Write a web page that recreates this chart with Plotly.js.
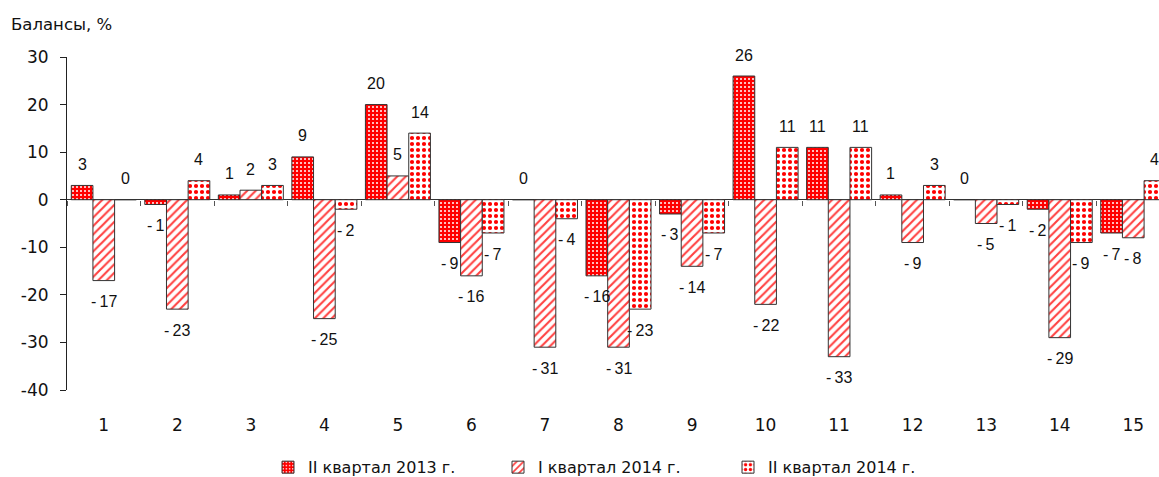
<!DOCTYPE html>
<html><head><meta charset="utf-8">
<script src="https://cdn.plot.ly/plotly-3.0.1.min.js"></script>
<style>body{margin:0;background:#fff}#c{width:1159px;height:477px}</style>
</head><body><div id="c"></div>
<script>
var categories = ['1','2','3','4','5','6','7','8','9','10','11','12','13','14','15'];
var seriesNames = ['II квартал 2013 г.', 'I квартал 2014 г.', 'II квартал 2014 г.'];
var q2_2013 = [3, -1, 1, 9, 20, -9, 0, -16, -3, 26, 11, 1, 0, -2, -7];
var q1_2014 = [-17, -23, 2, -25, 5, -16, -31, -31, -14, -22, -33, -9, -5, -29, -8];
var q2_2014 = [0, 4, 3, -2, 14, -7, -4, -23, -7, 11, 11, 3, -1, -9, 4];
var yTicks = [-40, -30, -20, -10, 0, 10, 20, 30];

var labelFont = {family: 'Liberation Sans Narrow, Arial Narrow, Liberation Sans, Arial', size: 16, color: '#111'};
var lineStyle = {color: '#333', width: 1};

function fmt(v) { return v < 0 ? '-\u2009' + Math.abs(v) : String(v); }

var plotW = 1092, xRange = [-0.5, 14.35], bargap = 0.116;
var catPx = plotW / (xRange[1] - xRange[0]);
var barPx = catPx * (1 - bargap) / 3;

function trace(name, vals, pattern) {
  return {
    type: 'bar', name: name, x: categories, y: vals,
    cliponaxis: true,
    marker: {color: pattern.bgcolor, line: lineStyle, pattern: pattern},
    hoverinfo: 'skip'
  };
}

var series = [q2_2013, q1_2014, q2_2014];
var data = [
  trace(seriesNames[0], q2_2013, {shape: '.', bgcolor: '#ff0000', fgcolor: '#ffffff', size: 4, solidity: 0.2, fillmode: 'replace'}),
  trace(seriesNames[1], q1_2014, {shape: '/', bgcolor: '#ffffff', fgcolor: '#ff4040', size: 6, solidity: 0.35, fillmode: 'replace'}),
  trace(seriesNames[2], q2_2014, {shape: '.', bgcolor: '#ffffff', fgcolor: '#ff0000', size: 6, solidity: 0.38, fillmode: 'replace'})
];

var annotations = [];
series.forEach(function (vals, s) {
  vals.forEach(function (v, i) {
    annotations.push({
      xref: 'x', yref: 'y', x: i, y: v, text: fmt(v),
      xshift: (s - 1) * barPx, yshift: v < 0 ? -21 : 21,
      xanchor: 'center', yanchor: 'middle', showarrow: false, font: labelFont
    });
  });
});

var tickFont = {family: 'DejaVu Sans, Liberation Sans, Arial', size: 17, color: '#111'};

annotations.push({text: 'Балансы, %', xref: 'paper', yref: 'paper', x: -58/1092, y: 1 + 32/333,
                 xanchor: 'left', yanchor: 'middle', showarrow: false,
                 font: {family: 'DejaVu Sans, Liberation Sans, Arial', size: 16.5, color: '#111'}});

var layout = {
  width: 1159, height: 477,
  margin: {l: 67, r: 0, t: 57, b: 87, autoexpand: false},
  paper_bgcolor: '#fff', plot_bgcolor: '#fff',
  barmode: 'group', bargap: bargap, bargroupgap: 0,
  showlegend: true,
  legend: {orientation: 'h', x: 0.5, xanchor: 'center', xref: 'paper', y: -0.232, yanchor: 'middle',
           font: {family: 'DejaVu Sans, Liberation Sans, Arial', size: 16, color: '#111'},
           itemwidth: 30, entrywidth: 185, entrywidthmode: 'pixels', traceorder: 'normal'},
  xaxis: {type: 'category', range: xRange, showline: false, showgrid: false, zeroline: false,
          ticks: 'outside', ticklen: 20, tickcolor: 'rgba(0,0,0,0)', tickfont: tickFont, fixedrange: true},
  xaxis2: {type: 'linear', overlaying: 'x', anchor: 'free', position: 4/7, side: 'bottom',
           range: xRange, tick0: -0.5, dtick: 1, ticks: 'outside', ticklen: 5, tickcolor: '#555',
           showticklabels: false, showline: false, showgrid: false, zeroline: false},
  yaxis: {range: [-40, 30], tickvals: yTicks, ticktext: yTicks.map(String), showline: true, linecolor: '#222', linewidth: 1,
          ticks: 'outside', ticklen: 6, tickcolor: '#222', ticklabelstandoff: 8, showgrid: false,
          zeroline: true, zerolinecolor: '#333', zerolinewidth: 1.2, tickfont: tickFont, fixedrange: true},
  annotations: annotations
};

data.push({type: 'scatter', x: [0], y: [0], xaxis: 'x2', mode: 'markers', marker: {opacity: 0}, showlegend: false, hoverinfo: 'skip'});

Plotly.newPlot('c', data, layout, {staticPlot: true});
</script></body></html>
